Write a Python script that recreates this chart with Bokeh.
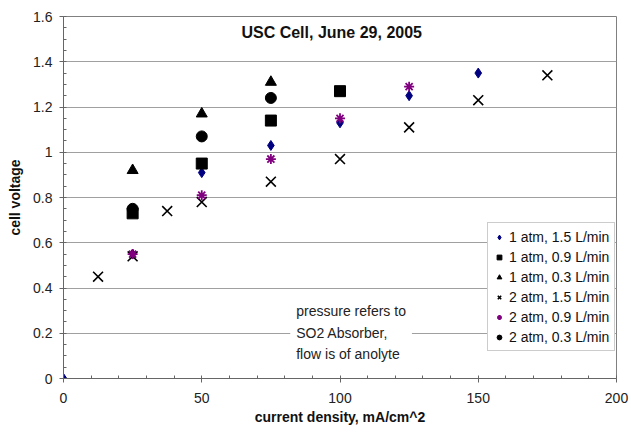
from bokeh.plotting import figure
from bokeh.models import FixedTicker, Label, Range1d
from bokeh.embed import file_html
from bokeh.resources import INLINE

# ---- data ----
x_1atm_15 = [0, 25, 50, 75, 100, 125, 150]
y_1atm_15 = [0, 0.55, 0.91, 1.03, 1.13, 1.25, 1.35]
x_1atm_09 = [25, 50, 75, 100]
y_1atm_09 = [0.73, 0.95, 1.14, 1.27]
x_1atm_03 = [25, 50, 75]
y_1atm_03 = [0.92, 1.17, 1.31]
x_2atm_15 = [12.5, 25, 37.5, 50, 75, 100, 125, 150, 175]
y_2atm_15 = [0.45, 0.54, 0.74, 0.78, 0.87, 0.97, 1.11, 1.23, 1.34]
x_2atm_09 = [25, 50, 75, 100, 125]
y_2atm_09 = [0.55, 0.81, 0.97, 1.15, 1.29]
x_2atm_03 = [25, 50, 75]
y_2atm_03 = [0.75, 1.07, 1.24]

series_labels = ["1 atm, 1.5 L/min", "1 atm, 0.9 L/min", "1 atm, 0.3 L/min",
                 "2 atm, 1.5 L/min", "2 atm, 0.9 L/min", "2 atm, 0.3 L/min"]

x_ticks = [0, 50, 100, 150, 200]
x_minor = list(range(0, 201, 10))
y_ticks = [0, 0.2, 0.4, 0.6, 0.8, 1.0, 1.2, 1.4, 1.6]
y_tick_labels = ["0", "0.2", "0.4", "0.6", "0.8", "1", "1.2", "1.4", "1.6"]
y_minor = [i * 0.05 for i in range(0, 33)]

title_text = "USC Cell, June 29, 2005"
note_text = "pressure refers to\nSO2 Absorber,\nflow is of anolyte"
x_label = "current density, mA/cm^2"
y_label = "cell voltage"

FONT = "Liberation Sans"

p = figure(width=631, height=434, output_backend="svg", toolbar_location=None,
           x_range=Range1d(0, 200), y_range=Range1d(0, 1.6),
           min_border_left=63, min_border_right=15, min_border_top=16,
           min_border_bottom=56)
p.outline_line_color = "#808080"
p.background_fill_color = "white"
p.border_fill_color = "white"

# axes
p.xaxis.ticker = FixedTicker(ticks=x_ticks, minor_ticks=x_minor)
p.yaxis.ticker = FixedTicker(ticks=y_ticks, minor_ticks=y_minor)
p.yaxis.major_label_overrides = {t: l for t, l in zip(y_ticks, y_tick_labels)}
p.xaxis.major_label_overrides = {t: str(t) for t in x_ticks}
for ax in (p.xaxis, p.yaxis):
    ax.axis_line_color = "#666666"
    ax.major_tick_line_color = "#666666"
    ax.minor_tick_line_color = "#666666"
    ax.major_tick_out = 4
    ax.major_tick_in = 0
    ax.minor_tick_in = 3
    ax.minor_tick_out = 0
    ax.major_label_text_font = FONT
    ax.major_label_text_font_size = "14px"
    ax.major_label_text_color = "#222222"
    ax.axis_label_text_font = FONT
    ax.axis_label_text_font_size = "14px"
    ax.axis_label_text_font_style = "bold"
    ax.axis_label_text_color = "#111111"
p.xaxis.major_label_standoff = 10
p.yaxis.major_label_standoff = 7
p.xaxis.axis_label = x_label
p.yaxis.axis_label = y_label
p.xaxis.axis_label_standoff = 3
p.yaxis.axis_label_standoff = 7

p.xgrid.grid_line_color = None
p.ygrid.ticker = FixedTicker(ticks=y_ticks)
p.ygrid.grid_line_color = "#a0a0a0"
p.ygrid.grid_line_width = 1

# series
p.scatter(x_1atm_15, y_1atm_15, marker="diamond", size=10, color="#000080",
          legend_label=series_labels[0])
p.scatter(x_1atm_09, y_1atm_09, marker="square", size=11, color="black",
          legend_label=series_labels[1])
p.scatter(x_1atm_03, y_1atm_03, marker="triangle", size=11, color="black",
          legend_label=series_labels[2])
p.scatter(x_2atm_15, y_2atm_15, marker="x", size=14, line_color="black",
          line_width=1.6, legend_label=series_labels[3])
p.scatter(x_2atm_09, y_2atm_09, marker="asterisk", size=10, line_color="#800080",
          line_width=1.8, legend_label=series_labels[4])
p.scatter(x_2atm_03, y_2atm_03, marker="circle", size=11, color="black",
          legend_label=series_labels[5])

# legend
lg = p.legend[0]
lg.location = (424, 27)
lg.label_text_font = FONT
lg.label_text_font_size = "14px"
lg.label_text_color = "#111111"
lg.label_height = 17
lg.glyph_height = 14
lg.glyph_width = 12
lg.spacing = 3
lg.padding = 5
lg.margin = 0
lg.label_standoff = 4
lg.border_line_color = "#999999"
lg.border_line_width = 1
lg.background_fill_color = "white"
lg.background_fill_alpha = 1

# title inside plot
p.add_layout(Label(x=97, y=1.53, text=title_text, text_align="center",
                   text_baseline="middle", text_font=FONT, text_font_size="16px",
                   text_font_style="bold", text_color="#111111"))

# note
p.add_layout(Label(x=82, y=0.36, text=note_text, text_align="left",
                   text_baseline="top", text_font=FONT, text_font_size="14px",
                   text_color="#222222", text_line_height=1.35,
                   background_fill_color="white", padding=6))

open("out.html", "w").write(file_html(p, INLINE))
